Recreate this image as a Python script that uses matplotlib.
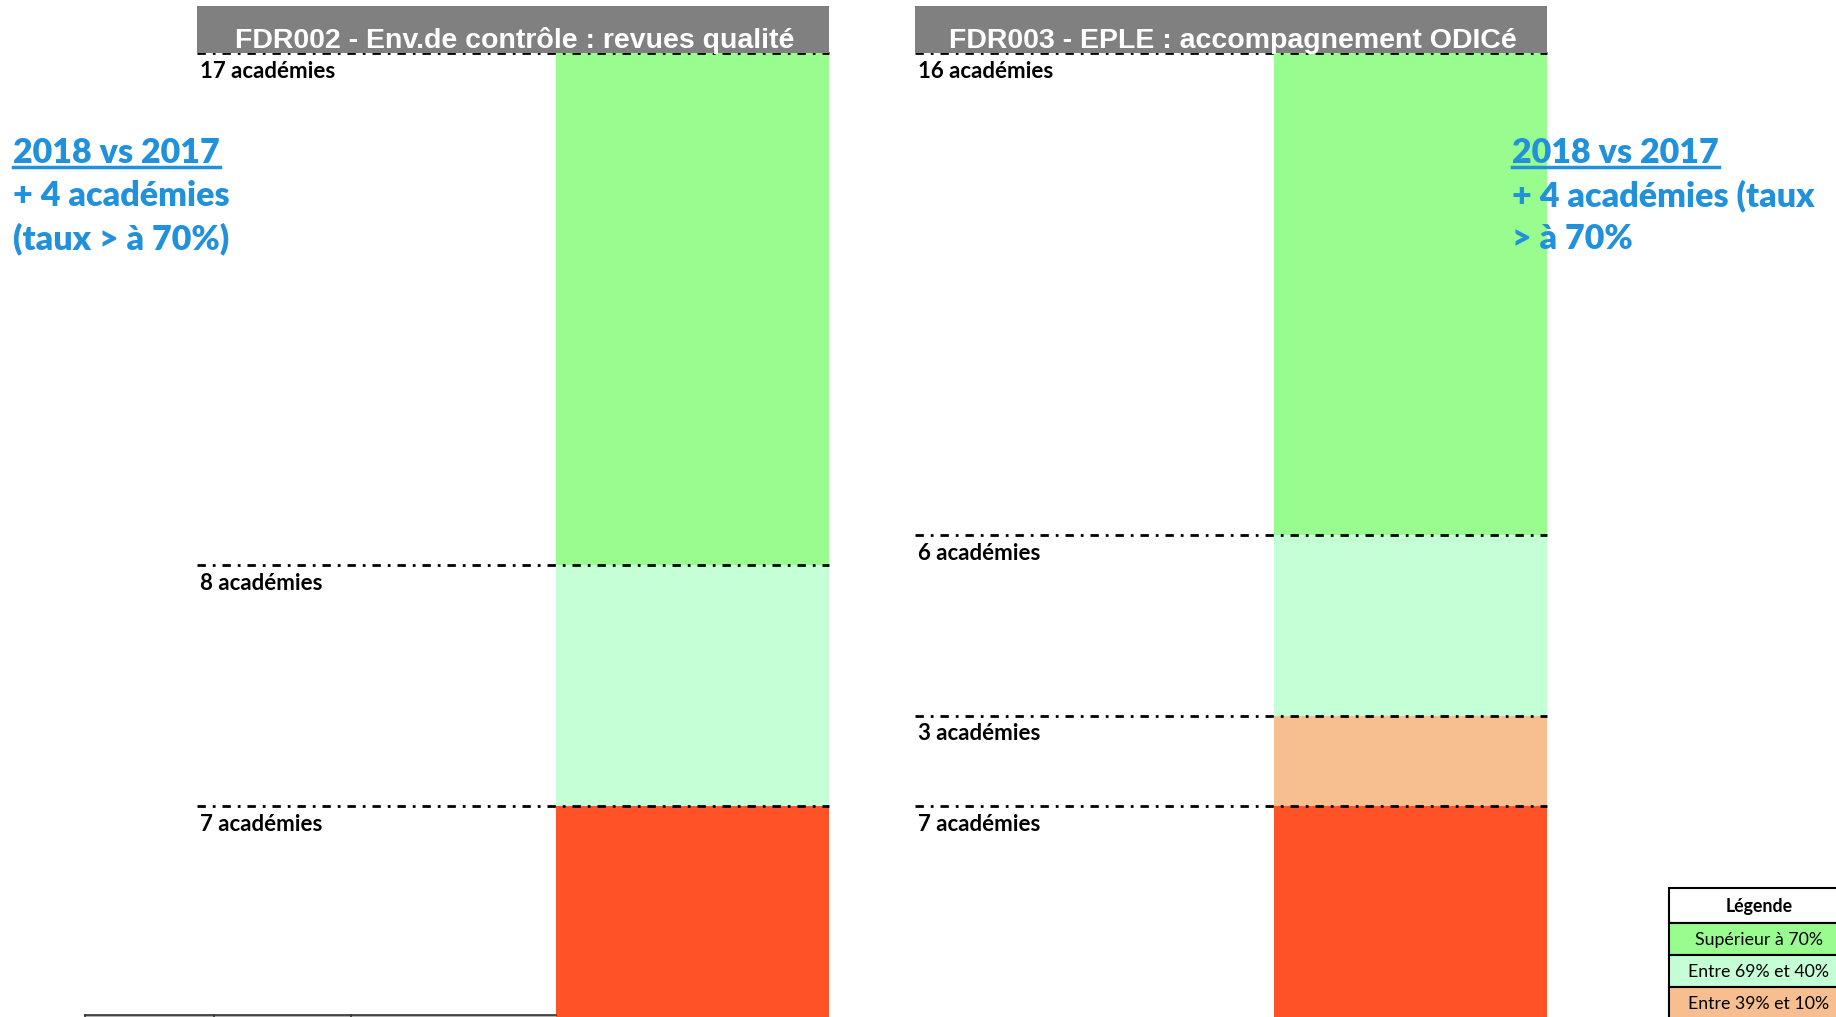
import matplotlib
matplotlib.use('Agg')
import matplotlib.pyplot as plt
from matplotlib.patches import Rectangle
from matplotlib.lines import Line2D

W, H = 1836, 1017

# données
titles = ['FDR002 - Env.de contrôle : revues qualité',
          'FDR003 - EPLE : accompagnement ODICé']
levels = ['Supérieur à 70%', 'Entre 69% et 40%', 'Entre 39% et 10%', 'Inférieur à 10%']
counts_fdr002 = [17, 8, 0, 7]
counts_fdr003 = [16, 6, 3, 7]
colors = ['#98fd8e', '#c5ffd6', '#f7bf8f', '#ff5227']
notes_left = ['2018 vs 2017', '+ 4 académies', '(taux > à 70%)']
notes_right = ['2018 vs 2017', '+ 4 académies (taux', '> à 70%']

BLUE = '#2191dc'
BODY_FONT = ['Lato', 'DejaVu Sans']
HEAD_FONT = ['Liberation Sans Narrow', 'Liberation Sans', 'DejaVu Sans']


def fx(px):
    return px / W


def fy(py):
    return 1 - py / H


def draw_panel(fig, left_px, title, counts):
    ax = fig.add_axes([fx(left_px), 0, 632 / W, fy(53)])
    ax.set_xlim(0, 1)
    ax.set_ylim(0, sum(counts))
    ax.set_axis_off()

    total = sum(counts)
    top = total
    for n, c in zip(counts, colors):
        if n == 0:
            continue
        ax.bar(0.784, n, bottom=top - n, width=0.432, color=c, linewidth=0)
        ax.plot([0, 1], [top, top], color='black', lw=2,
                ls=(0, (3, 2.5, 1, 2.5)), clip_on=False, zorder=3)
        ax.text(0.004, top - 0.25, f'{n} académies', ha='left', va='top',
                fontsize=16, fontweight='bold', family=BODY_FONT)
        top -= n

    fig.add_artist(Rectangle((fx(left_px), fy(53)), 632 / W, (53 - 6) / H,
                             transform=fig.transFigure, color='#808080', lw=0))
    fig.text(fx(left_px + 318), fy(48), title, ha='center', va='baseline',
             color='white', fontsize=20.5, fontweight='bold', family=HEAD_FONT)


def draw_note(fig, x_px, lines):
    baselines = [163, 206, 249]
    texts = []
    for line, b in zip(lines, baselines):
        t = fig.text(fx(x_px), fy(b), line, ha='left', va='baseline',
                     color=BLUE, fontsize=24.5, fontweight='heavy', family=BODY_FONT)
        texts.append(t)
    return texts[0]


def draw_legend(fig):
    x0, x1 = 1669, 1850
    rows = [('Légende', 'white', 888, 923, 'bold'),
            (levels[0], colors[0], 923, 955, 'normal'),
            (levels[1], colors[1], 955, 987, 'normal'),
            (levels[2], colors[2], 987, 1019, 'normal')]
    for label, c, ya, yb, weight in rows:
        fig.add_artist(Rectangle((fx(x0), fy(yb)), (x1 - x0) / W, (yb - ya) / H,
                                 transform=fig.transFigure, facecolor=c,
                                 edgecolor='black', lw=1.5))
        fig.text(fx(1759), fy((ya + yb) / 2 + 1), label, ha='center', va='center',
                 fontsize=12.8, fontweight=weight, family=BODY_FONT)


fig = plt.figure(figsize=(W / 100, H / 100), dpi=100)

draw_panel(fig, 197, titles[0], counts_fdr002)
draw_panel(fig, 915, titles[1], counts_fdr003)

heads = [draw_note(fig, 13, notes_left), draw_note(fig, 1512, notes_right)]
draw_legend(fig)

# bord du tableau coupé en bas à gauche
fig.add_artist(Rectangle((fx(85), 0), (556 - 85) / W, 2 / H,
                         transform=fig.transFigure, color='#b0b0b0', lw=0))
fig.add_artist(Line2D([fx(85), fx(556)], [fy(1015), fy(1015)],
                      transform=fig.transFigure, color='#333333', lw=1.2))
for xt in (85, 214, 351):
    fig.add_artist(Line2D([fx(xt), fx(xt)], [0, fy(1015)],
                          transform=fig.transFigure, color='#333333', lw=1.2))

# soulignement des titres bleus
fig.canvas.draw()
renderer = fig.canvas.get_renderer()
for t in heads:
    bb = t.get_window_extent(renderer)
    ypos = (bb.y0 + 2) / H
    fig.add_artist(Line2D([bb.x0 / W, bb.x1 / W], [ypos, ypos],
                          transform=fig.transFigure, color=BLUE, lw=2.5))

fig.savefig('out.png', dpi=100)
